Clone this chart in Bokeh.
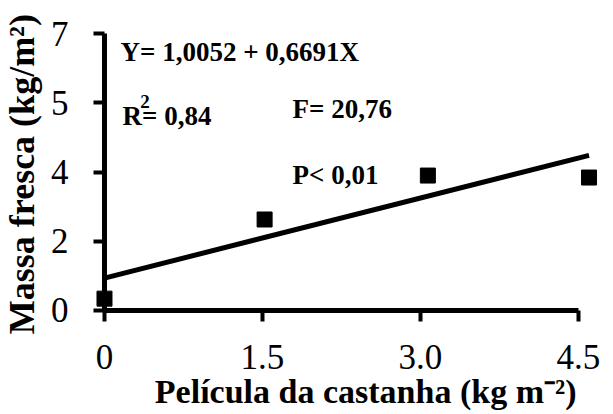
import math
from bokeh.plotting import figure
from bokeh.models import Range1d, FixedTicker, Label
from bokeh.embed import file_html
from bokeh.resources import INLINE

# ---- data ----
x_ticks = [0, 1.5, 3.0, 4.5]
x_tick_labels = ["0", "1.5", "3.0", "4.5"]
y_ticks = [0, 1.75, 3.5, 5.25, 7]
y_tick_labels = ["0", "2", "4", "5", "7"]
pelicula = [0, 1.52, 3.07, 4.6]          # Película da castanha (kg m-2)
massa = [0.30, 2.30, 3.41, 3.36]         # Massa fresca (kg/m2)
fit_x = [0, 4.6]
fit_y = [0.82, 3.92]

x_title = "Película  da castanha  (kg m\u207b\u00b2)"
y_title = "Massa fresca  (kg/m\u00b2)"
eq_text = "Y= 1,0052 + 0,6691X"
r2_text = "R= 0,84"
f_text = "F= 20,76"
p_text = "P< 0,01"

FONT = "Liberation Serif"

p = figure(width=613, height=414, output_backend="svg", toolbar_location=None,
           x_range=Range1d(-0.98734, 4.83228), y_range=Range1d(-2.6282, 7.8340),
           min_border_left=0, min_border_right=0, min_border_top=0,
           min_border_bottom=0, background_fill_color="white",
           border_fill_color="white")
p.outline_line_color = None
p.grid.visible = False

for ax, ticks, labels in ((p.xaxis[0], x_ticks, x_tick_labels),
                          (p.yaxis[0], y_ticks, y_tick_labels)):
    ax.fixed_location = 0
    ax.ticker = FixedTicker(ticks=ticks)
    ax.major_label_overrides = {t: l for t, l in zip(ticks, labels)}
    ax.axis_line_color = None
    ax.major_tick_line_color = "black"
    ax.major_tick_line_width = 4
    ax.major_tick_in = 0
    ax.major_tick_out = 11
    ax.minor_tick_line_color = None
    ax.major_label_text_font = FONT
    ax.major_label_text_font_size = "35px"
    ax.major_label_text_color = "black"

p.xaxis.major_label_standoff = 24
p.yaxis.major_label_standoff = 25

# axis lines
p.line(x=[x_ticks[0], x_ticks[-1]], y=[0, 0], line_color="black", line_width=5)
p.line(x=[0, 0], y=[y_ticks[0], y_ticks[-1]], line_color="black", line_width=5)

# regression line and points
p.line(x=fit_x, y=fit_y, line_color="black", line_width=5)
p.scatter(x=pelicula, y=massa, marker="square", size=15, fill_color="black",
          line_color="black")

def lab(x, y, text, size, align="left", baseline="alphabetic", angle=0.0, bold=True):
    p.add_layout(Label(x=x, y=y, text=text, text_font=FONT,
                       text_font_size=size, text_font_style="bold" if bold else "normal",
                       text_color="black", text_align=align,
                       text_baseline=baseline, angle=angle))

lab(0.152, 6.52, eq_text, "27px")
lab(0.171, 4.905, r2_text, "27px")
lab(0.385, 5.27, "2", "19px", align="center")
lab(1.785, 5.08, f_text, "27px")
lab(1.785, 3.42, p_text, "27px")

# axis titles
lab(2.56, -2.05, x_title, "34px", align="center")
lab(-0.78, 3.56, y_title, "36px", align="center", baseline="middle", angle=math.pi / 2)

open("out.html", "w").write(file_html(p, INLINE))
